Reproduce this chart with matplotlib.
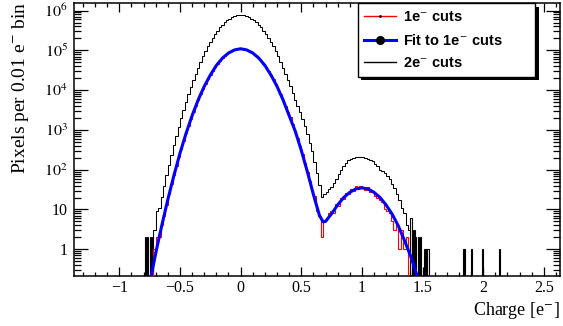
import matplotlib
matplotlib.use('Agg')

import matplotlib.pyplot as plt
import matplotlib.patches as mpatches
import numpy as np
from matplotlib.lines import Line2D
from matplotlib.ticker import MultipleLocator, LogLocator, FixedLocator, FuncFormatter, NullFormatter

# ---- data ----
# main body of the histograms, 0.02 e wide bins starting at BODY_START
BODY_START = -0.72
BODY_WIDTH = 0.02

# 2e- cuts (black), counts per bin
black_counts = [
    3, 9, 11, 21, 40, 74, 135, 240, 420, 720,
    1200, 2000, 3200, 5000, 7800, 1.2e4, 1.8e4, 2.6e4, 3.7e4, 5.2e4,
    7.1e4, 9.6e4, 1.26e5, 1.64e5, 2.09e5, 2.6e5, 3.16e5, 3.8e5, 4.45e5, 5.1e5,
    5.7e5, 6.3e5, 6.9e5, 7.3e5, 7.6e5, 7.75e5, 7.75e5, 7.6e5, 7.3e5, 6.9e5,
    6.3e5, 5.7e5, 5.1e5, 4.45e5, 3.8e5, 3.16e5, 2.6e5, 2.09e5, 1.64e5, 1.26e5,
    9.6e4, 7.1e4, 5.2e4, 3.7e4, 2.6e4, 1.8e4, 1.25e4, 8500, 5800, 4000,
    2800, 1900, 1250, 800, 480, 290, 160, 85, 42, 21,
    24, 27, 33, 37, 46, 58, 80, 98, 126, 148,
    172, 183, 197, 204, 212, 209, 206, 198, 191, 174,
    162, 139, 122, 101, 92, 84, 71, 57, 45, 35,
    24, 17, 11, 8, 4, 3,
]

# 1e- cuts (red), counts per bin
red_counts = [
    1, 2, 2, 4, 7, 13, 24, 43, 73, 123,
    205, 330, 525, 815, 1250, 1880, 2770, 4000, 5650, 7900,
    1.07e4, 1.44e4, 1.88e4, 2.4e4, 3.05e4, 3.8e4, 4.6e4, 5.5e4, 6.4e4, 7.2e4,
    8.2e4, 9.0e4, 9.8e4, 1.03e5, 1.07e5, 1.1e5, 1.1e5, 1.07e5, 1.03e5, 9.8e4,
    9.0e4, 8.2e4, 7.2e4, 6.4e4, 5.5e4, 4.6e4, 3.8e4, 3.05e4, 2.4e4, 1.88e4,
    1.44e4, 1.07e4, 7900, 5650, 4000, 2770, 2100, 1420, 940, 610,
    390, 245, 150, 90, 53, 31, 22, 9, 7, 2,
    5, 6, 8, 9, 8, 14, 12, 19, 18, 26,
    24, 32, 29, 38, 33, 40, 36, 31, 36, 27,
    30, 22, 20, 17, 15, 10, 9, 8, 5, 3,
    4, 1, 3, 1, 2, 0,
]

# isolated 0.01 e bins of the 2e- histogram outside the main body
black_tail_edges = [-0.79, -0.77, -0.75, -0.73,
                    1.40, 1.41, 1.43, 1.44, 1.46, 1.48,
                    1.51, 1.52, 1.53, 1.54, 1.83, 1.84, 1.90, 1.99, 2.13]
black_tail_counts = [2, 2, 2, 2,
                     6, 3, 3, 2, 2, 2,
                     1, 1, 1, 1, 1, 1, 1, 1, 1]
TAIL_WIDTH = 0.01

# fit to 1e- cuts (blue), sampled along the curve
fit_x = [-0.735, -0.70, -0.65, -0.60, -0.55, -0.50, -0.45, -0.40, -0.35, -0.30,
         -0.25, -0.20, -0.15, -0.10, -0.05, 0.0, 0.05, 0.10, 0.15, 0.20,
         0.25, 0.30, 0.35, 0.40, 0.45, 0.50, 0.55, 0.60, 0.65, 0.68,
         0.70, 0.75, 0.80, 0.85, 0.90, 0.95, 1.00, 1.05, 1.10, 1.15,
         1.20, 1.25, 1.30, 1.35, 1.40, 1.455]
fit_y = [0.23, 0.8, 4.0, 18, 72, 260, 820, 2300, 5700, 1.25e4,
         2.4e4, 4.2e4, 6.4e4, 8.6e4, 1.03e5, 1.1e5, 1.03e5, 8.6e4, 6.4e4, 4.2e4,
         2.4e4, 1.25e4, 5700, 2300, 940, 310, 90, 24, 7.1, 4.9,
         5.0, 7.8, 13, 20, 27, 33, 35, 33, 27, 20,
         13, 7.6, 3.9, 1.7, 0.7, 0.22]

legend_labels = ['1e$^{-}$ cuts', 'Fit to 1e$^{-}$ cuts', '2e$^{-}$ cuts']

# ---- figure ----
plt.rcParams['font.family'] = ['Liberation Serif', 'DejaVu Serif']
plt.rcParams['mathtext.fontset'] = 'stix'

fig = plt.figure(figsize=(5.63, 3.26), dpi=100)
ax = fig.add_axes([0.1306, 0.1549, 0.8641, 0.835])

FLOOR = 1e-3  # empty bins drop below the axis


def body_edges(n):
    return BODY_START + BODY_WIDTH * np.arange(n + 1)


black = np.array(black_counts, dtype=float)
red = np.array(red_counts, dtype=float)
ax.stairs(np.where(black > 0, black, FLOOR), body_edges(len(black)),
          baseline=FLOOR, color='k', lw=0.75, zorder=2)
for x0, c in zip(black_tail_edges, black_tail_counts):
    ax.stairs([c], [x0, x0 + TAIL_WIDTH], baseline=FLOOR, color='k', lw=0.8, zorder=2)
ax.stairs(np.where(red > 0, red, FLOOR), body_edges(len(red)),
          baseline=FLOOR, color='#ff0000', lw=0.8, zorder=3)
ax.plot(fit_x, fit_y, color='#0000ff', lw=2.2, zorder=4)

ax.set_yscale('log')
ax.set_xlim(-1.378, 2.634)
ax.set_ylim(0.219, 1.53e6)

ax.xaxis.set_major_locator(MultipleLocator(0.5))
ax.xaxis.set_minor_locator(MultipleLocator(0.1))
ax.xaxis.set_major_formatter(FuncFormatter(lambda v, p: f'{v:g}'.replace('-', '\u2212')))

ax.yaxis.set_major_locator(FixedLocator([1, 10, 1e2, 1e3, 1e4, 1e5, 1e6]))
ax.yaxis.set_minor_locator(LogLocator(base=10, subs=np.arange(2, 10), numticks=20))
ax.yaxis.set_minor_formatter(NullFormatter())


def ylab(v, p):
    n = int(round(np.log10(v)))
    if n == 0:
        return '1'
    if n == 1:
        return '10'
    return '$10^{%d}$' % n


ax.yaxis.set_major_formatter(FuncFormatter(ylab))

ax.tick_params(which='both', direction='in', top=True, right=True, width=0.9,
               labelsize=11.5)
ax.tick_params(axis='x', which='major', length=6.5, pad=3)
ax.tick_params(axis='x', which='minor', length=3.2)
ax.tick_params(axis='y', which='major', length=10, pad=4)
ax.tick_params(axis='y', which='minor', length=5)
for s in ax.spines.values():
    s.set_linewidth(1.1)

fig.text(21 / 563, 1 - 1.7 / 326, 'Pixels per 0.01 e$^{-}$ bin', rotation=90,
         ha='center', va='top', fontsize=14)
fig.text(560 / 563, 1 - 300 / 326, 'Charge [e$^{-}$]', ha='right', va='top',
         fontsize=13)

handles = [
    Line2D([], [], color='#ff0000', lw=1, marker='.', markersize=2, mfc='k', mec='k'),
    Line2D([], [], color='#0000ff', lw=2.2, marker='o', markersize=5.5, mfc='k', mec='k'),
    Line2D([], [], color='k', lw=1),
]
leg = ax.legend(handles, legend_labels, loc='upper left',
                bbox_to_anchor=(0.584, 0.73, 0.365, 0.27), mode='expand',
                borderaxespad=0, borderpad=0.45, labelspacing=0.6,
                handlelength=2.15, handletextpad=0.5, fancybox=False,
                prop={'family': 'Liberation Sans', 'weight': 'bold', 'size': 10.5})
leg.get_frame().set_edgecolor('k')
leg.get_frame().set_linewidth(1.0)
leg.get_frame().set_alpha(1)
leg.set_zorder(10)

# ROOT style hard shadow behind the legend box
fig.canvas.draw()
bb = leg.get_window_extent().transformed(fig.transFigure.inverted())
dx, dy = 3.5 / 563, 3.5 / 326
shadow = mpatches.Rectangle((bb.x0 + dx, bb.y0 - dy), bb.width, bb.height,
                            transform=fig.transFigure, facecolor='k',
                            edgecolor='none', zorder=9, clip_on=False)
ax.add_artist(shadow)

fig.savefig('out.png', dpi=100)
